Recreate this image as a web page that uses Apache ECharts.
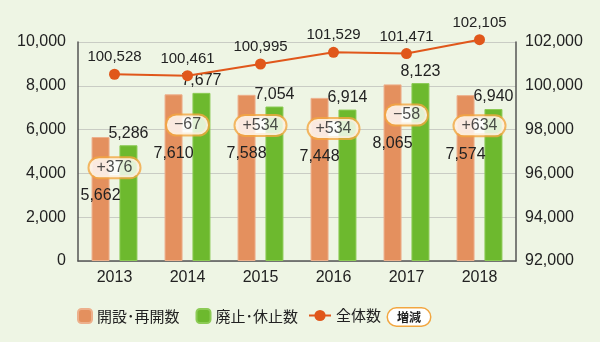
<!DOCTYPE html>
<html>
<head>
<meta charset="utf-8">
<script src="https://cdn.jsdelivr.net/npm/echarts@6/dist/echarts.min.js"></script>
<style>
  html, body { margin: 0; padding: 0; background: #EEF5E4; }
  #chart { width: 600px; height: 342px; }
</style>
</head>
<body>
<div id="chart"></div>
<script>
// Years shown on the category axis
const years = ['2013', '2014', '2015', '2016', '2017', '2018'];
// 開設・再開数 (openings and reopenings)
const openings = [5662, 7610, 7588, 7448, 8065, 7574];
// 廃止・休止数 (closures and suspensions)
const closures = [5286, 7677, 7054, 6914, 8123, 6940];
// 全体数 (total count, right axis)
const totals = [100528, 100461, 100995, 101529, 101471, 102105];

const leftTicks = { min: 0, max: 10000, interval: 2000 };
const rightTicks = { min: 92000, max: 102000, interval: 2000 };

// 増減: net change per year, badge hung a little below the top of the openings bar
const deltas = openings.map((v, i) => v - closures[i]);
const deltaAnchor = openings.map(v => v - 1400);

const fmt = v => Number(v).toLocaleString('en-US');
const signed = v => (v >= 0 ? '+' : '\u2212') + Math.abs(v);

const NUM_FONT = '"Liberation Sans Narrow", "Liberation Sans", sans-serif';
const AXIS_FONT = '"Liberation Sans", Arial, sans-serif';
const JP_FONT = '"Noto Sans CJK JP", sans-serif';

const chart = echarts.init(document.getElementById('chart'), null, { renderer: 'canvas' });

chart.setOption({
  backgroundColor: '#EEF5E4',
  animation: false,
  grid: { left: 78, right: 84, top: 42, bottom: 81 },
  legend: [
    {
      data: ['開設･再開数', '廃止･休止数'],
      left: 72, top: 303,
      itemWidth: 14, itemHeight: 14, itemGap: 16,
      textStyle: { fontFamily: JP_FONT, fontSize: 15, color: '#222' }
    },
    {
      data: ['全体数'],
      left: 303, top: 303,
      itemWidth: 22, itemHeight: 14,
      textStyle: { fontFamily: JP_FONT, fontSize: 15, color: '#222' }
    },
    {
      data: [{ name: '増減', icon: 'rect', itemStyle: { color: 'rgba(0,0,0,0)', opacity: 0 } }],
      left: 377, top: 302,
      itemWidth: 1, itemHeight: 14,
      formatter: n => '{e|' + n + '}',
      textStyle: {
        fontFamily: JP_FONT,
        rich: {
          e: {
            fontFamily: JP_FONT, fontSize: 12, fontWeight: 'bold', color: '#222',
            backgroundColor: '#fff', borderColor: '#F2A640', borderWidth: 1.5,
            borderRadius: 11, padding: [3, 9, 2, 9]
          }
        }
      }
    }
  ],
  xAxis: [
    {
      type: 'category',
      data: years,
      axisLine: { lineStyle: { color: '#555', width: 1.5 } },
      axisTick: { length: 8, lineStyle: { color: '#555', width: 1.5 } },
      axisLabel: { color: '#222', fontSize: 16, fontFamily: AXIS_FONT, margin: 9 }
    },
    {
      type: 'category',
      data: years,
      position: 'bottom',
      axisLine: { show: false },
      axisTick: { inside: true, length: 6, lineStyle: { color: '#555', width: 1.5 } },
      axisLabel: { show: false }
    }
  ],
  yAxis: [
    {
      type: 'value',
      min: leftTicks.min, max: leftTicks.max, interval: leftTicks.interval,
      axisLine: { show: true, lineStyle: { color: '#555', width: 1.5 } },
      axisTick: { show: false },
      splitLine: { lineStyle: { color: '#C9CCC4', width: 1.2 } },
      axisLabel: { color: '#222', fontSize: 16, fontFamily: AXIS_FONT, margin: 12, formatter: fmt }
    },
    {
      type: 'value',
      position: 'right',
      min: rightTicks.min, max: rightTicks.max, interval: rightTicks.interval,
      axisLine: { show: true, lineStyle: { color: '#555', width: 1.5 } },
      axisTick: { show: false },
      splitLine: { show: false },
      axisLabel: { color: '#222', fontSize: 16, fontFamily: AXIS_FONT, margin: 9, formatter: fmt }
    }
  ],
  series: [
    {
      name: '開設･再開数',
      type: 'bar',
      data: openings,
      barWidth: 18,
      barGap: '55%',
      itemStyle: { color: '#E4905E', borderColor: '#EDB08C', borderWidth: 1 },
      label: {
        show: true, position: 'insideTop', offset: [0, 46],
        color: '#222', fontSize: 16, fontFamily: NUM_FONT, formatter: p => fmt(p.value)
      },
      z: 2
    },
    {
      name: '廃止･休止数',
      type: 'bar',
      data: closures,
      barWidth: 18,
      itemStyle: { color: '#6DB92E', borderColor: '#8CCB55', borderWidth: 1 },
      label: {
        show: true, position: 'top',
        color: '#222', fontSize: 16, fontFamily: NUM_FONT, formatter: p => fmt(p.value)
      },
      // keep each value label pinned just above its own bar
      labelLayout: p => ({
        x: p.rect.x + p.rect.width / 2,
        y: p.rect.y - 12,
        align: 'center',
        verticalAlign: 'middle'
      }),
      z: 2
    },
    {
      name: '全体数',
      type: 'line',
      yAxisIndex: 1,
      data: totals,
      clip: false,
      symbol: 'circle',
      symbolSize: 11,
      lineStyle: { color: '#E0571B', width: 2 },
      itemStyle: { color: '#E0571B' },
      label: {
        show: true, position: 'top', distance: 4,
        color: '#222', fontSize: 15, fontFamily: NUM_FONT, formatter: p => fmt(p.value)
      },
      z: 4
    },
    {
      name: '増減',
      type: 'scatter',
      data: deltaAnchor,
      symbolSize: 0.1,
      itemStyle: { color: 'rgba(0,0,0,0)' },
      label: {
        show: true, position: 'inside',
        formatter: p => signed(deltas[p.dataIndex]),
        color: '#222', fontSize: 16, fontFamily: NUM_FONT,
        backgroundColor: '#fff', borderColor: '#F2A640', borderWidth: 2,
        borderRadius: 11, padding: [2, 7, 1, 7]
      },
      z: 6
    }
  ]
});
</script>
</body>
</html>
